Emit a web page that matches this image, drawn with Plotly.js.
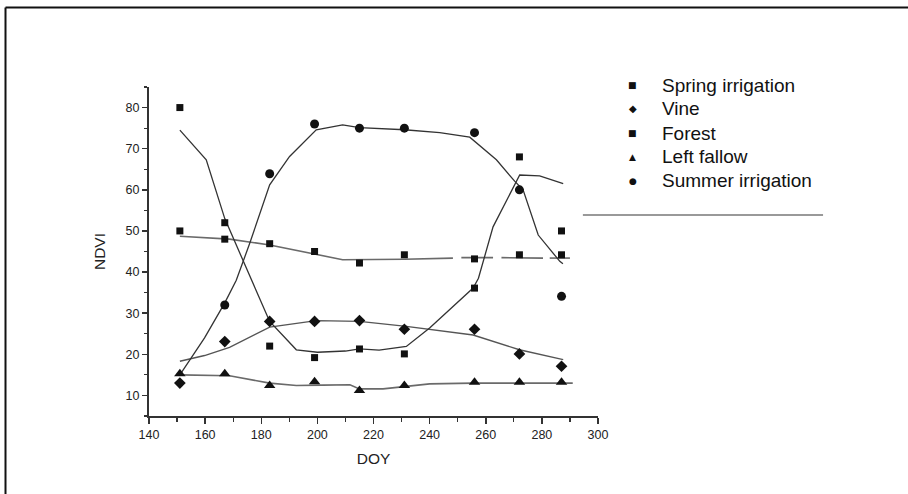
<!DOCTYPE html>
<html><head><meta charset="utf-8">
<script src="https://cdn.plot.ly/plotly-3.0.1.min.js"></script>
<style>html,body{margin:0;padding:0;background:#fff}#chart{width:908px;height:494px}</style>
</head><body><div id="chart"></div>
<script>
// observed values
const doy = [151, 167, 183, 199, 215, 231, 256, 272, 287];
const springIrrigation = [80, 52, 22, 19.2, 21.3, 20.1, 36.1, 68, 50];
const vine = [13, 23.1, 28, 28, 28.2, 26.1, 26.1, 20.1, 17.1];
const forest = [50, 48, 46.9, 45, 42.2, 44.2, 43.2, 44.2, 44.2];
const leftFallow = [15.3, 15.3, 12.4, 13.3, 11.2, 12.4, 13.2, 13.2, 13.2];
const summerIrrigation = [null, 32, 63.9, 76, 75, 75, 73.9, 60, 34.1];

// fitted (smoothed) curves
const springFitX = [151, 160.4, 167, 173.5, 183, 192.5, 200, 210, 215, 222, 231.7, 240, 248.3, 255.5, 257.4, 262.6, 272.1, 279.2, 287.6];
const springFitY = [74.5, 67.3, 53, 42.7, 28, 21.1, 20.5, 20.8, 21.3, 21, 21.9, 26.4, 31.6, 36.1, 38.5, 51, 63.6, 63.4, 61.5];
const summerFitX = [151, 159.8, 167, 171.1, 175.9, 183, 190.1, 199.6, 209, 215, 231, 243.6, 254.3, 263.8, 270.3, 273.3, 278.7, 286.4, 287.5];
const summerFitY = [15, 24, 32.5, 38, 47, 61.2, 68.1, 74.6, 75.8, 75.1, 74.6, 73.9, 72.8, 67.3, 62.1, 60, 49, 42.6, 42];
const forestFitX = [151, 168.7, 183, 199.6, 209, 231, 248.3, null, 251.3, 262.6, null, 265.6, 280.4, null, 282.8, 290];
const forestFitY = [48.7, 48, 46.6, 44.2, 43, 43.1, 43.4, null, 43.5, 43.5, null, 43.5, 43.4, null, 43.4, 43.4];
const vineFitX = [151, 159.8, 168.7, 183, 199.6, 211.5, 215, 231.7, 255.5, 272, 287.6];
const vineFitY = [18.3, 19.7, 21.7, 26.6, 28.2, 28.1, 28, 26.8, 24.7, 21.1, 18.7];
const fallowFitX = [151, 168.7, 183, 192.5, 202, 211.6, 215, 223.4, 231.7, 240, 255.5, 291];
const fallowFitY = [15, 14.8, 13, 12.4, 12.5, 12.6, 11.6, 11.6, 12.2, 12.8, 13, 13];

const seriesNames = ['Spring irrigation', 'Vine', 'Forest', 'Left fallow', 'Summer irrigation'];
const legendGlyphs = ['\u25A0', '\u25C6', '\u25A0', '\u25B2', '\u25CF'];

const W = 908, H = 494, L = 149.4, R = 598.1, T = 87.3, B = 415.8;
const px = v => (v - L) / (R - L);
const py = v => (B - v) / (B - T);

const fitLine = (x, y, color, width) => ({
  x: x, y: y, type: 'scatter', mode: 'lines', showlegend: false, hoverinfo: 'skip',
  connectgaps: false, line: {color: color, width: width}
});
const pts = (y, symbol, size) => ({
  x: doy, y: y, type: 'scatter', mode: 'markers', showlegend: false,
  marker: {symbol: symbol, size: size, color: '#111'}
});

const data = [
  fitLine(forestFitX, forestFitY, '#6a6a6a', 1.6),
  fitLine(fallowFitX, fallowFitY, '#6a6a6a', 1.6),
  fitLine(vineFitX, vineFitY, '#555', 1.4),
  fitLine(springFitX, springFitY, '#333', 1.3),
  fitLine(summerFitX, summerFitY, '#333', 1.3),
  pts(springIrrigation, 'square', 7),
  pts(vine, 'diamond', 9),
  pts(forest, 'square', 7),
  pts(leftFallow, 'triangle-up', 10),
  pts(summerIrrigation, 'circle', 9)
];

const font = 'Liberation Sans, Arial, sans-serif';
const rowsY = [85.7, 109, 133.3, 156.7, 181];
const annotations = [];
seriesNames.forEach((n, i) => {
  annotations.push({xref: 'paper', yref: 'paper', x: px(633), y: py(rowsY[i]), text: legendGlyphs[i],
    showarrow: false, xanchor: 'center', yanchor: 'middle', font: {family: 'DejaVu Sans', size: i === 1 ? 10 : 9, color: '#111'}});
  annotations.push({xref: 'paper', yref: 'paper', x: px(660), y: py(rowsY[i]), text: n,
    showarrow: false, xanchor: 'left', yanchor: 'middle', font: {family: font, size: 19, color: '#111'}});
});

const layout = {
  width: W, height: H,
  margin: {l: L, r: W - R, t: T, b: H - B, pad: 0},
  paper_bgcolor: '#fff', plot_bgcolor: '#fff',
  font: {family: font, color: '#222'},
  showlegend: false,
  xaxis: {
    range: [140, 300], dtick: 20, tick0: 140, showgrid: false, zeroline: false,
    showline: true, linecolor: '#333', linewidth: 2, ticks: 'outside', ticklen: 6, tickwidth: 1.5, tickcolor: '#333',
    minor: {dtick: 10, ticks: 'outside', ticklen: 3.5, tickwidth: 1.2, tickcolor: '#333', showgrid: false},
    tickfont: {size: 12.5, color: '#222'},
    title: {text: 'DOY', font: {size: 15.5, color: '#222'}, standoff: 12}
  },
  yaxis: {
    range: [5, 85], dtick: 10, tick0: 10, showgrid: false, zeroline: false,
    showline: true, linecolor: '#333', linewidth: 2, ticks: 'outside', ticklen: 5, tickwidth: 1.5, tickcolor: '#333',
    minor: {dtick: 5, ticks: 'outside', ticklen: 3, tickwidth: 1.2, tickcolor: '#333', showgrid: false},
    tickfont: {size: 12.5, color: '#222'},
    title: {text: 'NDVI', font: {size: 15.5, color: '#222'}, standoff: 16}
  },
  annotations: annotations,
  shapes: [
    {type: 'line', xref: 'paper', yref: 'paper', x0: px(6), x1: px(920), y0: py(8), y1: py(8), line: {color: '#111', width: 2}},
    {type: 'line', xref: 'paper', yref: 'paper', x0: px(6), x1: px(6), y0: py(8), y1: py(510), line: {color: '#111', width: 2}},
    {type: 'line', xref: 'paper', yref: 'paper', x0: px(583), x1: px(823), y0: py(215), y1: py(215), line: {color: '#999', width: 2}}
  ]
};

Plotly.newPlot('chart', data, layout, {staticPlot: true, displayModeBar: false});
</script>
</body></html>
